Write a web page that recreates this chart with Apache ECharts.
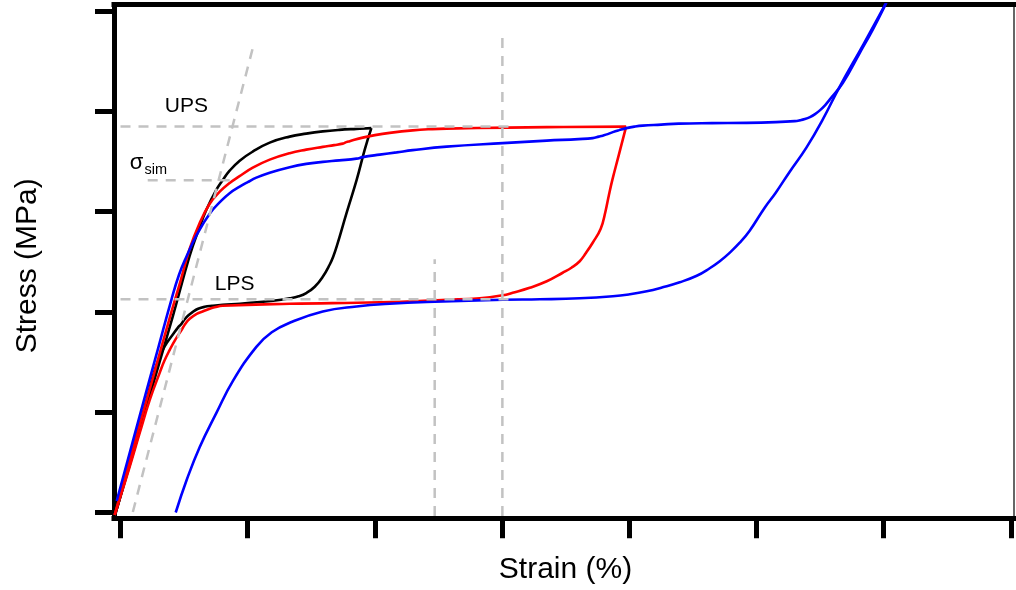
<!DOCTYPE html>
<html>
<head>
<meta charset="utf-8">
<script src="https://cdn.jsdelivr.net/npm/echarts@6/dist/echarts.min.js"></script>
<style>
  html, body { margin: 0; padding: 0; background: #fff; }
  #chart { width: 1016px; height: 590px; }
</style>
</head>
<body>
<div id="chart"></div>
<script>
// Axis ticks (no labels drawn): strain in %, stress in MPa
const strainTicks = [0, 1, 2, 3, 4, 5, 6, 7];
const stressTicks = [0, 200, 400, 600, 800, 1000];

// Cycle to ~2 % strain (black)
const blackLoading = [[-0.038,-2],[0.100,118],[0.250,250],[0.410,390],[0.544,512],[0.620,568],[0.675,604],[0.754,644],[0.800,662],[0.858,682],[0.937,702],[1.039,720],[1.173,738],[1.330,750],[1.460,756],[1.590,760.5],[1.720,763.5],[1.855,765.5],[1.972,767]];
const blackUnloading = [[1.972,767],[1.920,724],[1.857,664],[1.778,598],[1.699,530],[1.672,510],[1.644,494],[1.590,470],[1.527,450],[1.464,438],[1.400,431],[1.330,427],[1.200,422],[1.071,419],[0.940,416],[0.803,414],[0.720,412],[0.662,410],[0.610,406],[0.570,400],[0.530,392],[0.495,382],[0.479,376],[0.450,368],[0.410,354],[0.370,340],[0.332,324],[0.290,298],[0.253,270],[0.206,224],[0.135,160],[0.057,84],[-0.038,-2]];

// Cycle to ~4 % strain (red)
const redLoading = [[-0.046,-6],[0.100,128],[0.250,264],[0.387,388],[0.470,460],[0.544,526],[0.620,576],[0.701,616],[0.780,640],[0.850,656],[0.930,670],[1.040,688],[1.173,704],[1.330,717],[1.460,724],[1.590,729.5],[1.680,733],[1.747,736],[1.775,739],[1.802,741],[1.904,748],[2.000,753],[2.116,757.5],[2.297,762.5],[2.450,765],[2.564,766],[3.044,768],[3.351,769],[3.975,770]];
const redUnloading = [[3.975,770],[3.918,714],[3.867,664],[3.840,634],[3.812,600],[3.775,566],[3.712,538],[3.660,518],[3.610,501],[3.545,488],[3.476,478],[3.351,461],[3.217,448],[3.083,438],[3.005,433],[2.824,427],[2.564,424],[2.037,419],[1.330,416],[0.803,412],[0.740,409],[0.701,406],[0.650,401],[0.599,396],[0.544,386],[0.510,376],[0.481,364],[0.430,344],[0.387,324],[0.345,302],[0.308,278],[0.230,224],[0.151,158],[0.072,90],[-0.046,-6]];

// Cycle beyond the plateau (blue)
const blueLoading = [[-0.030,22],[0.100,144],[0.200,238],[0.300,331],[0.400,424],[0.460,474],[0.518,510],[0.600,554],[0.701,596],[0.793,622],[0.858,637],[0.937,650],[1.000,659],[1.068,668],[1.173,678],[1.330,689],[1.460,695.5],[1.590,699.5],[1.720,702.5],[1.855,706],[1.904,709],[2.038,714],[2.170,718.5],[2.297,723],[2.564,730],[3.005,737],[3.351,742],[3.600,745],[3.712,747],[3.760,750],[3.791,752],[3.830,755],[3.870,759],[3.920,763],[3.977,767],[4.040,770],[4.105,772],[4.250,774],[4.388,776],[4.650,777],[4.921,777.5],[5.150,779],[5.300,781],[5.340,782.5],[5.380,785],[5.420,789],[5.460,795],[5.500,803],[5.540,813],[5.575,824],[5.678,857],[5.811,917],[5.914,964],[6.008,1011],[6.030,1024]];
const blueUnloading = [[6.030,1024],[6.016,1016],[5.835,932],[5.654,850],[5.520,784],[5.392,728],[5.261,680],[5.151,638],[5.064,608],[4.946,562],[4.868,538],[4.789,518],[4.711,501],[4.632,487],[4.530,472],[4.396,459],[4.262,449],[4.137,441],[4.003,435],[3.870,431],[3.610,427],[3.296,425],[3.005,424],[2.470,420],[2.116,416],[1.855,410.6],[1.590,400.6],[1.330,378],[1.189,359],[1.068,330],[0.884,262],[0.754,198],[0.623,130],[0.520,64],[0.434,-1]];

// Construction lines
const offsetLine = [[0.097,0],[1.050,937]];
const upsLine = [[0,770],[3.050,770]];
const simLine = [[0.214,663],[0.898,663]];
const lpsLine = [[0,425],[3.050,425]];
const strainMark3 = [[3.002,-8],[3.002,959]];
const strainMark247 = [[2.470,-8],[2.470,505]];

// Text annotations: [strain, stress, text]
const largeNotes = [[0.348,810,'UPS'],[0.741,456,'LPS']];
const sigmaNotes = [[0.072,698,'σ']];
const smallNotes = [[0.188,683,'sim']];

const FONT = '"Liberation Sans", Arial, Helvetica, sans-serif';
const chart = echarts.init(document.getElementById('chart'), null, { renderer: 'canvas' });

function curve(data, color) {
  return {
    type: 'line', data: data, showSymbol: false, smooth: 0.45, silent: true, z: 3,
    lineStyle: { color: color, width: 2.6 }
  };
}
function dashed(data) {
  return {
    type: 'line', data: data, showSymbol: false, silent: true, z: 4,
    lineStyle: { color: '#c2c2c2', width: 2.5, type: [10, 8] }
  };
}
function notes(data, size) {
  return {
    type: 'scatter', data: data, symbolSize: 0, silent: true, z: 5,
    itemStyle: { color: '#000', opacity: 1 },
    label: {
      show: true, position: [0, 0], align: 'left', verticalAlign: 'middle',
      formatter: p => p.value[2], color: '#000', fontSize: size, fontFamily: FONT,
      textBorderWidth: 0, textShadowBlur: 0, opacity: 1
    }
  };
}

const xRange = { min: -0.0511, max: 7.024 };
const yRange = { min: -12.4, max: 1014 };

chart.setOption({
  animation: false,
  backgroundColor: '#fff',
  grid: { left: 114, right: 2, top: 4.5, bottom: 71.8, containLabel: false, outerBoundsMode: 'none' },
  xAxis: [
    {
      type: 'value', position: 'bottom', min: xRange.min, max: xRange.max,
      name: 'Strain (%)', nameLocation: 'middle', nameGap: 37,
      nameTextStyle: { fontSize: 30, fontFamily: FONT, color: '#000', padding: [0, 0, 0, 3] },
      axisLine: { show: true, onZero: false, lineStyle: { color: '#000', width: 5, cap: 'square' } },
      axisTick: { show: true, customValues: strainTicks, length: 20, lineStyle: { color: '#000', width: 5 } },
      axisLabel: { show: false }, splitLine: { show: false }
    },
    {
      type: 'value', position: 'top', min: xRange.min, max: xRange.max,
      axisLine: { show: true, onZero: false, lineStyle: { color: '#000', width: 5, cap: 'square' } },
      axisTick: { show: false }, axisLabel: { show: false }, splitLine: { show: false }
    }
  ],
  yAxis: [
    {
      type: 'value', position: 'left', min: yRange.min, max: yRange.max,
      name: 'Stress (MPa)', nameLocation: 'middle', nameGap: 71, nameRotate: 90,
      nameTextStyle: { fontSize: 30, fontFamily: FONT, color: '#000', padding: [0, 9, 0, 0] },
      axisLine: { show: true, onZero: false, lineStyle: { color: '#000', width: 5, cap: 'square' } },
      axisTick: { show: true, customValues: stressTicks, length: 19, lineStyle: { color: '#000', width: 5 } },
      axisLabel: { show: false }, splitLine: { show: false }
    },
    {
      type: 'value', position: 'right', min: yRange.min, max: yRange.max,
      axisLine: { show: true, onZero: false, lineStyle: { color: '#333', width: 1.5 } },
      axisTick: { show: false }, axisLabel: { show: false }, splitLine: { show: false }
    }
  ],
  series: [
    curve(blackLoading, '#000000'),
    curve(blackUnloading, '#000000'),
    curve(redLoading, '#ff0000'),
    curve(redUnloading, '#ff0000'),
    curve(blueLoading, '#0000ff'),
    curve(blueUnloading, '#0000ff'),
    dashed(offsetLine),
    dashed(upsLine),
    dashed(simLine),
    dashed(lpsLine),
    dashed(strainMark3),
    dashed(strainMark247),
    notes(largeNotes, 21),
    notes(sigmaNotes, 22),
    notes(smallNotes, 14.5)
  ]
});
</script>
</body>
</html>
